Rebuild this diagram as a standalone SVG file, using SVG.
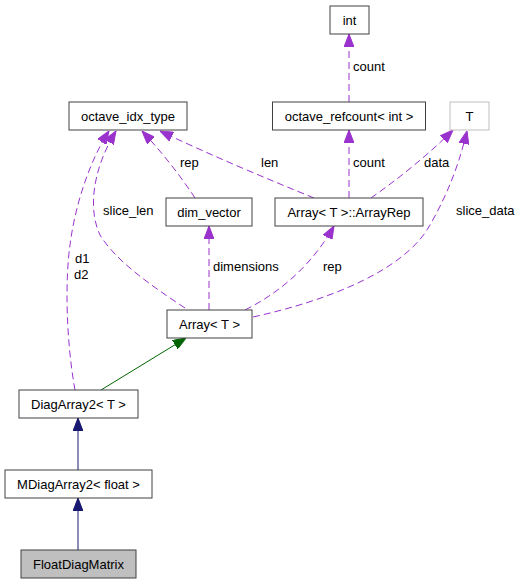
<svg xmlns="http://www.w3.org/2000/svg" width="520" height="584" viewBox="0 0 520 584">
<style>
  .box { fill: #ffffff; stroke: #404040; stroke-width: 1; }
  .gray { fill: #ffffff; stroke: #bfbfbf; stroke-width: 1; }
  .cur { fill: #bfbfbf; stroke: #404040; stroke-width: 1; }
  text { font-family: "Liberation Sans", Arial, sans-serif; font-size: 13px; fill: #000000; }
  .nt { text-anchor: middle; }
  .use { fill: none; stroke: #9a32cd; stroke-width: 1; stroke-dasharray: 7,4; }
  .inh { fill: none; stroke: #191970; stroke-width: 1; }
  .tmpl { fill: none; stroke: #006400; stroke-width: 1; }
</style>
<defs>
  <marker id="aP" viewBox="0 0 13 10" refX="13" refY="5" markerWidth="13" markerHeight="10" markerUnits="userSpaceOnUse" orient="auto">
    <path d="M0,0 L13,5 L0,10 z" fill="#9a32cd" stroke="#9a32cd" stroke-width="1"/>
  </marker>
  <marker id="aN" viewBox="0 0 13 10" refX="13" refY="5" markerWidth="13" markerHeight="10" markerUnits="userSpaceOnUse" orient="auto">
    <path d="M0,0 L13,5 L0,10 z" fill="#191970" stroke="#191970" stroke-width="1"/>
  </marker>
  <marker id="aG" viewBox="0 0 13 10" refX="13" refY="5" markerWidth="13" markerHeight="10" markerUnits="userSpaceOnUse" orient="auto">
    <path d="M0,0 L13,5 L0,10 z" fill="#006400" stroke="#006400" stroke-width="1"/>
  </marker>
</defs>

<g id="connectors">
  <path class="use" d="M349,102 L349,34" marker-end="url(#aP)"/>
  <text x="353" y="71">count</text>
  <path class="use" d="M349,198 L349,130" marker-end="url(#aP)"/>
  <text x="353" y="167">count</text>
  <path class="use" d="M371,198 C395,181 425,158 453,130" marker-end="url(#aP)"/>
  <text x="424" y="167">data</text>
  <path class="use" d="M314,198 C270,180 210,155 160,131" marker-end="url(#aP)"/>
  <text x="261" y="167">len</text>
  <path class="use" d="M195,198 C180,175 160,150 142,131" marker-end="url(#aP)"/>
  <text x="180" y="167">rep</text>
  <path class="use" d="M185,308 C150,285 115,260 100,235 C88,210 92,170 116,131" marker-end="url(#aP)"/>
  <text x="103" y="215">slice_len</text>
  <path class="use" d="M75,390 C66,340 65,280 70,245 C75,205 90,160 109,131" marker-end="url(#aP)"/>
  <text x="75" y="263">d1</text>
  <text x="74" y="279">d2</text>
  <path class="use" d="M209,310 L209,226" marker-end="url(#aP)"/>
  <text x="213" y="271">dimensions</text>
  <path class="use" d="M245,310 C285,290 315,260 334,226" marker-end="url(#aP)"/>
  <text x="323" y="271">rep</text>
  <path class="use" d="M253,317 C330,300 405,270 430,225 C450,190 460,160 467,131" marker-end="url(#aP)"/>
  <text x="456" y="215">slice_data</text>
  <path class="tmpl" d="M101,390 L186,338" marker-end="url(#aG)"/>
  <path class="inh" d="M78,470 L78,418" marker-end="url(#aN)"/>
  <path class="inh" d="M78,550 L78,498" marker-end="url(#aN)"/>
</g>

<g id="int">
  <rect class="box" x="330" y="6" width="39" height="28"/>
  <text class="nt" x="349.5" y="24.5">int</text>
</g>
<g id="octave_refcount">
  <rect class="box" x="272.5" y="102" width="153" height="28"/>
  <text class="nt" x="349" y="120.5">octave_refcount&lt; int &gt;</text>
</g>
<g id="T">
  <rect class="gray" x="450" y="102" width="39" height="28"/>
  <text class="nt" x="469.5" y="120.5">T</text>
</g>
<g id="octave_idx_type">
  <rect class="box" x="69" y="102" width="118" height="28"/>
  <text class="nt" x="128" y="120.5">octave_idx_type</text>
</g>
<g id="dim_vector">
  <rect class="box" x="166" y="198" width="86" height="28"/>
  <text class="nt" x="209" y="216.5">dim_vector</text>
</g>
<g id="ArrayRep">
  <rect class="box" x="275" y="198" width="148" height="28"/>
  <text class="nt" x="349" y="216.5">Array&lt; T &gt;::ArrayRep</text>
</g>
<g id="Array">
  <rect class="box" x="167" y="310" width="85" height="28"/>
  <text class="nt" x="209.5" y="328.5">Array&lt; T &gt;</text>
</g>
<g id="DiagArray2">
  <rect class="box" x="19" y="390" width="119" height="28"/>
  <text class="nt" x="78.5" y="408.5">DiagArray2&lt; T &gt;</text>
</g>
<g id="MDiagArray2">
  <rect class="box" x="5" y="470" width="147" height="28"/>
  <text class="nt" x="78.5" y="488.5">MDiagArray2&lt; float &gt;</text>
</g>
<g id="FloatDiagMatrix">
  <rect class="cur" x="21" y="550" width="115" height="28"/>
  <text class="nt" x="78.5" y="568.5">FloatDiagMatrix</text>
</g>
</svg>
